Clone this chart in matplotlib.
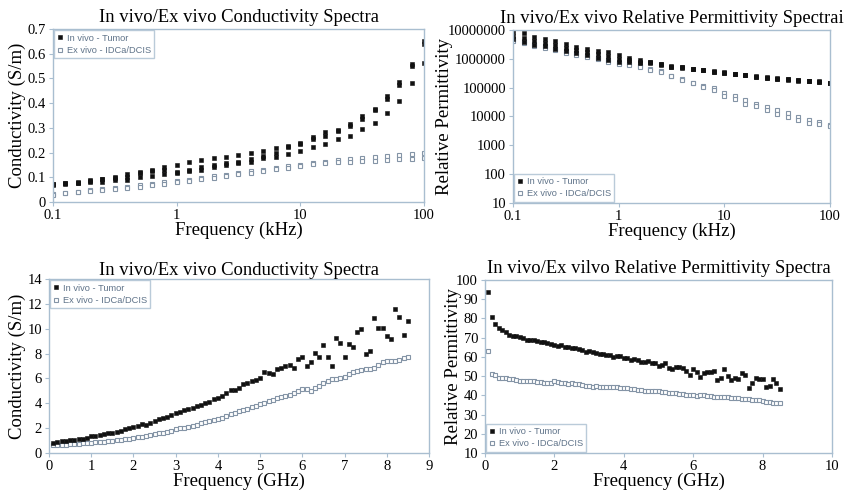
import numpy as np
import matplotlib
matplotlib.use("Agg")
import matplotlib.pyplot as plt
from matplotlib.ticker import FixedLocator, FuncFormatter, NullLocator

# ---------------- data ----------------
# low-frequency sweep (kHz), 10 points per decade
freq_khz = [0.1, 0.126, 0.158, 0.2, 0.251, 0.316, 0.398, 0.501, 0.631, 0.794,
            1.0, 1.26, 1.58, 2.0, 2.51, 3.16, 3.98, 5.01, 6.31, 7.94,
            10.0, 12.6, 15.8, 20.0, 25.1, 31.6, 39.8, 50.1, 63.1, 79.4, 100.0]

# conductivity (S/m), in vivo tumour measurements
cond_lf_tumor_a = [0.072, 0.076, 0.080, 0.088, 0.095, 0.100, 0.114, 0.121, 0.130, 0.140,
                   0.150, 0.160, 0.169, 0.177, 0.184, 0.191, 0.198, 0.207, 0.218, 0.227,
                   0.238, 0.262, 0.285, 0.292, 0.317, 0.346, 0.376, 0.428, 0.484, 0.558, 0.650]
cond_lf_tumor_b = [0.071, 0.075, 0.078, 0.085, 0.093, 0.098, 0.100, 0.117, 0.125, 0.130,
                   0.122, 0.128, 0.142, 0.149, 0.156, 0.162, 0.172, 0.186, 0.199, 0.223,
                   0.234, 0.253, 0.267, 0.288, 0.307, 0.337, 0.372, 0.418, 0.475, 0.552, 0.640]
cond_lf_tumor_c = [0.068, 0.072, 0.075, 0.082, 0.081, 0.088, 0.090, 0.100, 0.105, 0.115,
                   0.118, 0.125, 0.131, 0.142, 0.149, 0.156, 0.162, 0.176, 0.183, 0.194,
                   0.207, 0.221, 0.234, 0.253, 0.268, 0.295, 0.320, 0.359, 0.410, 0.483, 0.564]
# conductivity (S/m), ex vivo IDCa/DCIS
cond_lf_ex_a = [0.033, 0.038, 0.042, 0.047, 0.052, 0.056, 0.060, 0.067, 0.072, 0.080,
                0.085, 0.090, 0.098, 0.105, 0.111, 0.118, 0.125, 0.131, 0.138, 0.146,
                0.151, 0.158, 0.163, 0.168, 0.173, 0.178, 0.184, 0.188, 0.191, 0.193, 0.197]
cond_lf_ex_b = [0.030, 0.035, 0.039, 0.043, 0.048, 0.052, 0.056, 0.062, 0.068, 0.074,
                0.079, 0.085, 0.092, 0.099, 0.105, 0.112, 0.119, 0.126, 0.133, 0.139,
                0.146, 0.153, 0.157, 0.160, 0.160, 0.164, 0.167, 0.170, 0.172, 0.173, 0.177]

# relative permittivity, in vivo tumour
perm_lf_tumor_a = [8.5e6, 7.6e6, 5.9e6, 4.9e6, 4.0e6, 3.3e6, 2.5e6, 2.2e6, 1.87e6, 1.66e6,
                   1.36e6, 1.1e6, 9.1e5, 8.0e5, 6.8e5, 5.5e5, 5.2e5, 4.5e5, 4.2e5, 3.7e5,
                   3.4e5, 3.0e5, 2.8e5, 2.45e5, 2.25e5, 2.1e5, 2.0e5, 1.85e5, 1.75e5, 1.65e5, 1.5e5]
perm_lf_tumor_b = [6.4e6, 5.4e6, 4.3e6, 3.6e6, 3.0e6, 2.4e6, 2.0e6, 1.7e6, 1.45e6, 1.23e6,
                   1.0e6, 9.0e5, 8.0e5, 7.7e5, 6.5e5, 5.35e5, 5.0e5, 4.4e5, 4.1e5, 3.6e5,
                   3.3e5, 2.95e5, 2.7e5, 2.4e5, 2.2e5, 2.05e5, 1.95e5, 1.8e5, 1.7e5, 1.6e5, 1.47e5]
perm_lf_tumor_c = [4.8e6, 3.8e6, 3.1e6, 2.7e6, 2.2e6, 1.8e6, 1.6e6, 1.36e6, 1.1e6, 9.1e5,
                   7.5e5, 7.5e5, 7.2e5, 7.4e5, 6.3e5, 5.2e5, 4.9e5, 4.3e5, 4.0e5, 3.5e5,
                   3.2e5, 2.9e5, 2.65e5, 2.35e5, 2.15e5, 2.0e5, 1.9e5, 1.75e5, 1.65e5, 1.58e5, 1.43e5]
# relative permittivity, ex vivo IDCa/DCIS
perm_lf_ex_a = [5.0e6, 4.0e6, 3.2e6, 2.7e6, 2.2e6, 1.8e6, 1.55e6, 1.3e6, 1.05e6, 8.8e5,
                7.3e5, 6.5e5, 5.5e5, 4.5e5, 3.7e5, 2.6e5, 2.0e5, 1.5e5, 1.17e5, 9.4e4,
                6.7e4, 5.1e4, 3.7e4, 2.8e4, 2.1e4, 1.7e4, 1.3e4, 9.9e3, 7.6e3, 6.2e3, 4.9e3]
perm_lf_ex_b = [4.3e6, 3.4e6, 2.8e6, 2.4e6, 1.95e6, 1.6e6, 1.4e6, 1.15e6, 9.5e5, 8.0e5,
                6.6e5, 6.0e5, 5.0e5, 4.2e5, 3.4e5, 2.45e5, 1.85e5, 1.4e5, 1.05e5, 8.3e4,
                5.1e4, 3.9e4, 2.8e4, 2.3e4, 1.7e4, 1.2e4, 9.3e3, 7.6e3, 6.1e3, 5.6e3, 4.5e3]

# microwave sweep (GHz), 0.1 GHz steps
freq_ghz = [round(0.1 * k, 1) for k in range(1, 86)]

cond_mw_tumor = [0.83, 0.90, 0.94, 0.98, 1.02, 1.07, 1.12, 1.15, 1.22, 1.33,
                 1.38, 1.45, 1.52, 1.58, 1.62, 1.70, 1.80, 1.90, 2.00, 2.10,
                 2.18, 2.30, 2.28, 2.45, 2.58, 2.72, 2.85, 2.92, 3.05, 3.25,
                 3.30, 3.42, 3.55, 3.65, 3.78, 3.90, 4.00, 4.10, 4.35, 4.45,
                 4.62, 4.80, 5.08, 5.05, 5.20, 5.58, 5.62, 5.80, 5.90, 6.05,
                 6.54, 6.46, 6.33, 6.73, 6.81, 7.00, 7.08, 6.81, 7.53, 7.75,
                 7.02, 7.35, 8.07, 7.75, 8.69, 7.69, 7.02, 9.28, 8.82, 7.69,
                 8.74, 8.50, 9.73, 10.00, 7.94, 8.20, 10.88, 10.08, 10.08, 9.44,
                 9.14, 11.55, 10.97, 9.49, 10.62]
cond_mw_ex = [0.62, 0.64, 0.66, 0.68, 0.70, 0.72, 0.74, 0.78, 0.81, 0.84,
              0.86, 0.88, 0.91, 0.94, 0.98, 1.03, 1.08, 1.12, 1.16, 1.20,
              1.25, 1.32, 1.40, 1.47, 1.52, 1.58, 1.63, 1.70, 1.80, 1.90,
              1.97, 2.05, 2.12, 2.20, 2.28, 2.38, 2.47, 2.55, 2.65, 2.75,
              2.85, 3.00, 3.12, 3.25, 3.35, 3.45, 3.55, 3.68, 3.82, 3.95,
              4.05, 4.18, 4.30, 4.40, 4.48, 4.55, 4.65, 4.80, 5.00, 5.12,
              5.12, 5.02, 5.20, 5.40, 5.60, 5.78, 5.92, 5.95, 6.02, 6.15,
              6.35, 6.50, 6.58, 6.70, 6.75, 6.78, 6.85, 7.05, 7.30, 7.38,
              7.38, 7.40, 7.50, 7.62, 7.75]

perm_mw_tumor = [93.5, 80.8, 77.0, 74.8, 74.0, 72.8, 71.5, 70.8, 71.0, 70.3,
                 69.6, 69.0, 68.8, 68.6, 68.3, 67.9, 67.5, 67.2, 66.6, 66.0,
                 65.6, 66.0, 65.2, 65.0, 64.8, 64.5, 64.3, 63.5, 62.6, 63.0,
                 62.5, 62.0, 61.7, 61.4, 61.0, 60.8, 59.8, 60.5, 60.7, 59.6,
                 59.2, 58.6, 59.0, 58.5, 57.4, 57.2, 57.6, 56.9, 57.0, 55.2,
                 55.8, 56.7, 54.1, 53.5, 54.6, 54.9, 54.4, 52.8, 50.6, 53.5,
                 52.3, 49.7, 51.8, 52.0, 52.3, 52.6, 48.0, 48.9, 53.5, 50.1,
                 48.0, 48.9, 48.6, 51.5, 50.6, 43.7, 46.3, 49.0, 48.3, 48.3,
                 44.5, 44.6, 48.5, 46.3, 43.5]
perm_mw_ex = [63.0, 51.0, 50.5, 49.0, 48.8, 48.9, 48.7, 48.5, 47.8, 47.6,
              47.6, 47.5, 47.4, 47.2, 47.0, 46.8, 46.5, 46.3, 46.5, 47.2,
              46.8, 46.5, 46.3, 46.0, 46.2, 46.0, 45.8, 45.2, 44.9, 44.6,
              44.5, 44.6, 44.5, 44.4, 44.2, 44.5, 44.3, 44.2, 44.0, 43.8,
              43.6, 43.5, 43.3, 43.0, 42.6, 42.5, 42.4, 42.3, 42.2, 42.0,
              41.8, 41.6, 41.4, 41.2, 41.0, 40.7, 40.5, 40.4, 40.2, 40.0,
              39.6, 40.3, 40.0, 39.8, 39.5, 39.3, 39.1, 39.0, 39.0, 38.9,
              38.8, 38.8, 38.6, 38.3, 38.0, 37.9, 37.8, 37.8, 37.6, 36.8,
              36.3, 36.5, 36.1, 36.0, 35.9]

label_tumor = "In vivo - Tumor"
label_ex = "Ex vivo - IDCa/DCIS"

# ---------------- style ----------------
SERIF = ["Liberation Serif", "DejaVu Serif"]
SANS = ["Liberation Sans", "DejaVu Sans"]
FRAME = "#a9bed0"
LEG_TXT = "#5f7389"
EX_EDGE = "#8494a6"

tumor_kw = dict(ls="none", marker="s", ms=3.0, mfc="#111111", mec="#111111", mew=0.4)
ex_kw = dict(ls="none", marker="s", ms=3.2, mfc="white", mec=EX_EDGE, mew=0.8)

fig = plt.figure(figsize=(8.45, 4.98), dpi=100)


def style_axes(ax, title, xlabel, ylabel, ylabelpad=1, titlepad=5):
    for s in ax.spines.values():
        s.set_color(FRAME)
        s.set_linewidth(1.0)
    ax.tick_params(axis="both", which="both", direction="out", length=3,
                   width=0.8, color=FRAME, labelsize=10.5, pad=2)
    for lab in ax.get_xticklabels() + ax.get_yticklabels():
        lab.set_fontfamily(SERIF)
    ax.set_title(title, fontfamily=SERIF, fontsize=13.4, pad=titlepad)
    ax.set_xlabel(xlabel, fontfamily=SERIF, fontsize=13.5, labelpad=0)
    ax.set_ylabel(ylabel, fontfamily=SERIF, fontsize=13.5, labelpad=ylabelpad)


def add_legend(ax, loc):
    h1, = ax.plot([], [], **tumor_kw)
    h2, = ax.plot([], [], **ex_kw)
    leg = ax.legend([h1, h2], [label_tumor, label_ex], loc=loc,
                    prop={"family": SANS, "size": 6.7}, frameon=True, fancybox=False,
                    borderaxespad=0.15, borderpad=0.35, handlelength=0.6,
                    handletextpad=0.4, labelspacing=0.35, edgecolor=FRAME)
    leg.get_frame().set_linewidth(1.0)
    for t in leg.get_texts():
        t.set_color(LEG_TXT)


def log_freq_axis(ax):
    ax.set_xscale("log")
    ax.set_xlim(0.1, 100)
    ax.xaxis.set_major_locator(FixedLocator([0.1, 1, 10, 100]))
    ax.xaxis.set_minor_locator(NullLocator())
    ax.xaxis.set_major_formatter(FuncFormatter(lambda v, p: f"{v:g}"))


# top left: low-frequency conductivity
ax1 = fig.add_axes([0.0627, 0.5944, 0.4391, 0.3474])
for series in (cond_lf_ex_a, cond_lf_ex_b):
    ax1.plot(freq_khz, series, **ex_kw)
for series in (cond_lf_tumor_a, cond_lf_tumor_b, cond_lf_tumor_c):
    ax1.plot(freq_khz, series, **tumor_kw)
log_freq_axis(ax1)
ax1.set_ylim(0, 0.7)
ax1.yaxis.set_major_locator(FixedLocator(np.arange(0, 0.71, 0.1)))
ax1.yaxis.set_major_formatter(FuncFormatter(lambda v, p: f"{v:.1f}" if v else "0"))
style_axes(ax1, "In vivo/Ex vivo Conductivity Spectra", "Frequency (kHz)", "Conductivity (S/m)")
add_legend(ax1, "upper left")

# top right: low-frequency relative permittivity
ax2 = fig.add_axes([0.6071, 0.5924, 0.3751, 0.3474])
for series in (perm_lf_ex_a, perm_lf_ex_b):
    ax2.plot(freq_khz, series, **ex_kw)
for series in (perm_lf_tumor_a, perm_lf_tumor_b, perm_lf_tumor_c):
    ax2.plot(freq_khz, series, **tumor_kw)
log_freq_axis(ax2)
ax2.set_yscale("log")
ax2.set_ylim(10, 1e7)
ax2.yaxis.set_major_locator(FixedLocator([10 ** k for k in range(1, 8)]))
ax2.yaxis.set_minor_locator(NullLocator())
ax2.yaxis.set_major_formatter(FuncFormatter(lambda v, p: f"{int(round(v))}"))
style_axes(ax2, "In vivo/Ex vivo Relative Permittivity Spectrai", "Frequency (kHz)",
           "Relative Permittivity", ylabelpad=-4)
add_legend(ax2, "lower left")

# bottom left: microwave conductivity
ax3 = fig.add_axes([0.0580, 0.0904, 0.4497, 0.3494])
ax3.plot(freq_ghz, cond_mw_ex, **ex_kw)
ax3.plot(freq_ghz, cond_mw_tumor, **tumor_kw)
ax3.set_xlim(0, 9)
ax3.set_ylim(0, 14)
ax3.xaxis.set_major_locator(FixedLocator(range(0, 10)))
ax3.yaxis.set_major_locator(FixedLocator(range(0, 15, 2)))
style_axes(ax3, "In vivo/Ex vivo Conductivity Spectra", "Frequency (GHz)", "Conductivity (S/m)",
           titlepad=3)
add_legend(ax3, "upper left")

# bottom right: microwave relative permittivity
ax4 = fig.add_axes([0.5740, 0.0904, 0.4106, 0.3474])
ax4.plot(freq_ghz, perm_mw_ex, **ex_kw)
ax4.plot(freq_ghz, perm_mw_tumor, **tumor_kw)
ax4.set_xlim(0, 10)
ax4.set_ylim(10, 100)
ax4.xaxis.set_major_locator(FixedLocator(range(0, 11, 2)))
ax4.yaxis.set_major_locator(FixedLocator(range(10, 101, 10)))
style_axes(ax4, "In vivo/Ex vilvo Relative Permittivity Spectra", "Frequency (GHz)",
           "Relative Permittivity", ylabelpad=-4)
add_legend(ax4, "lower left")

fig.savefig("out.png", dpi=100, facecolor="white")
